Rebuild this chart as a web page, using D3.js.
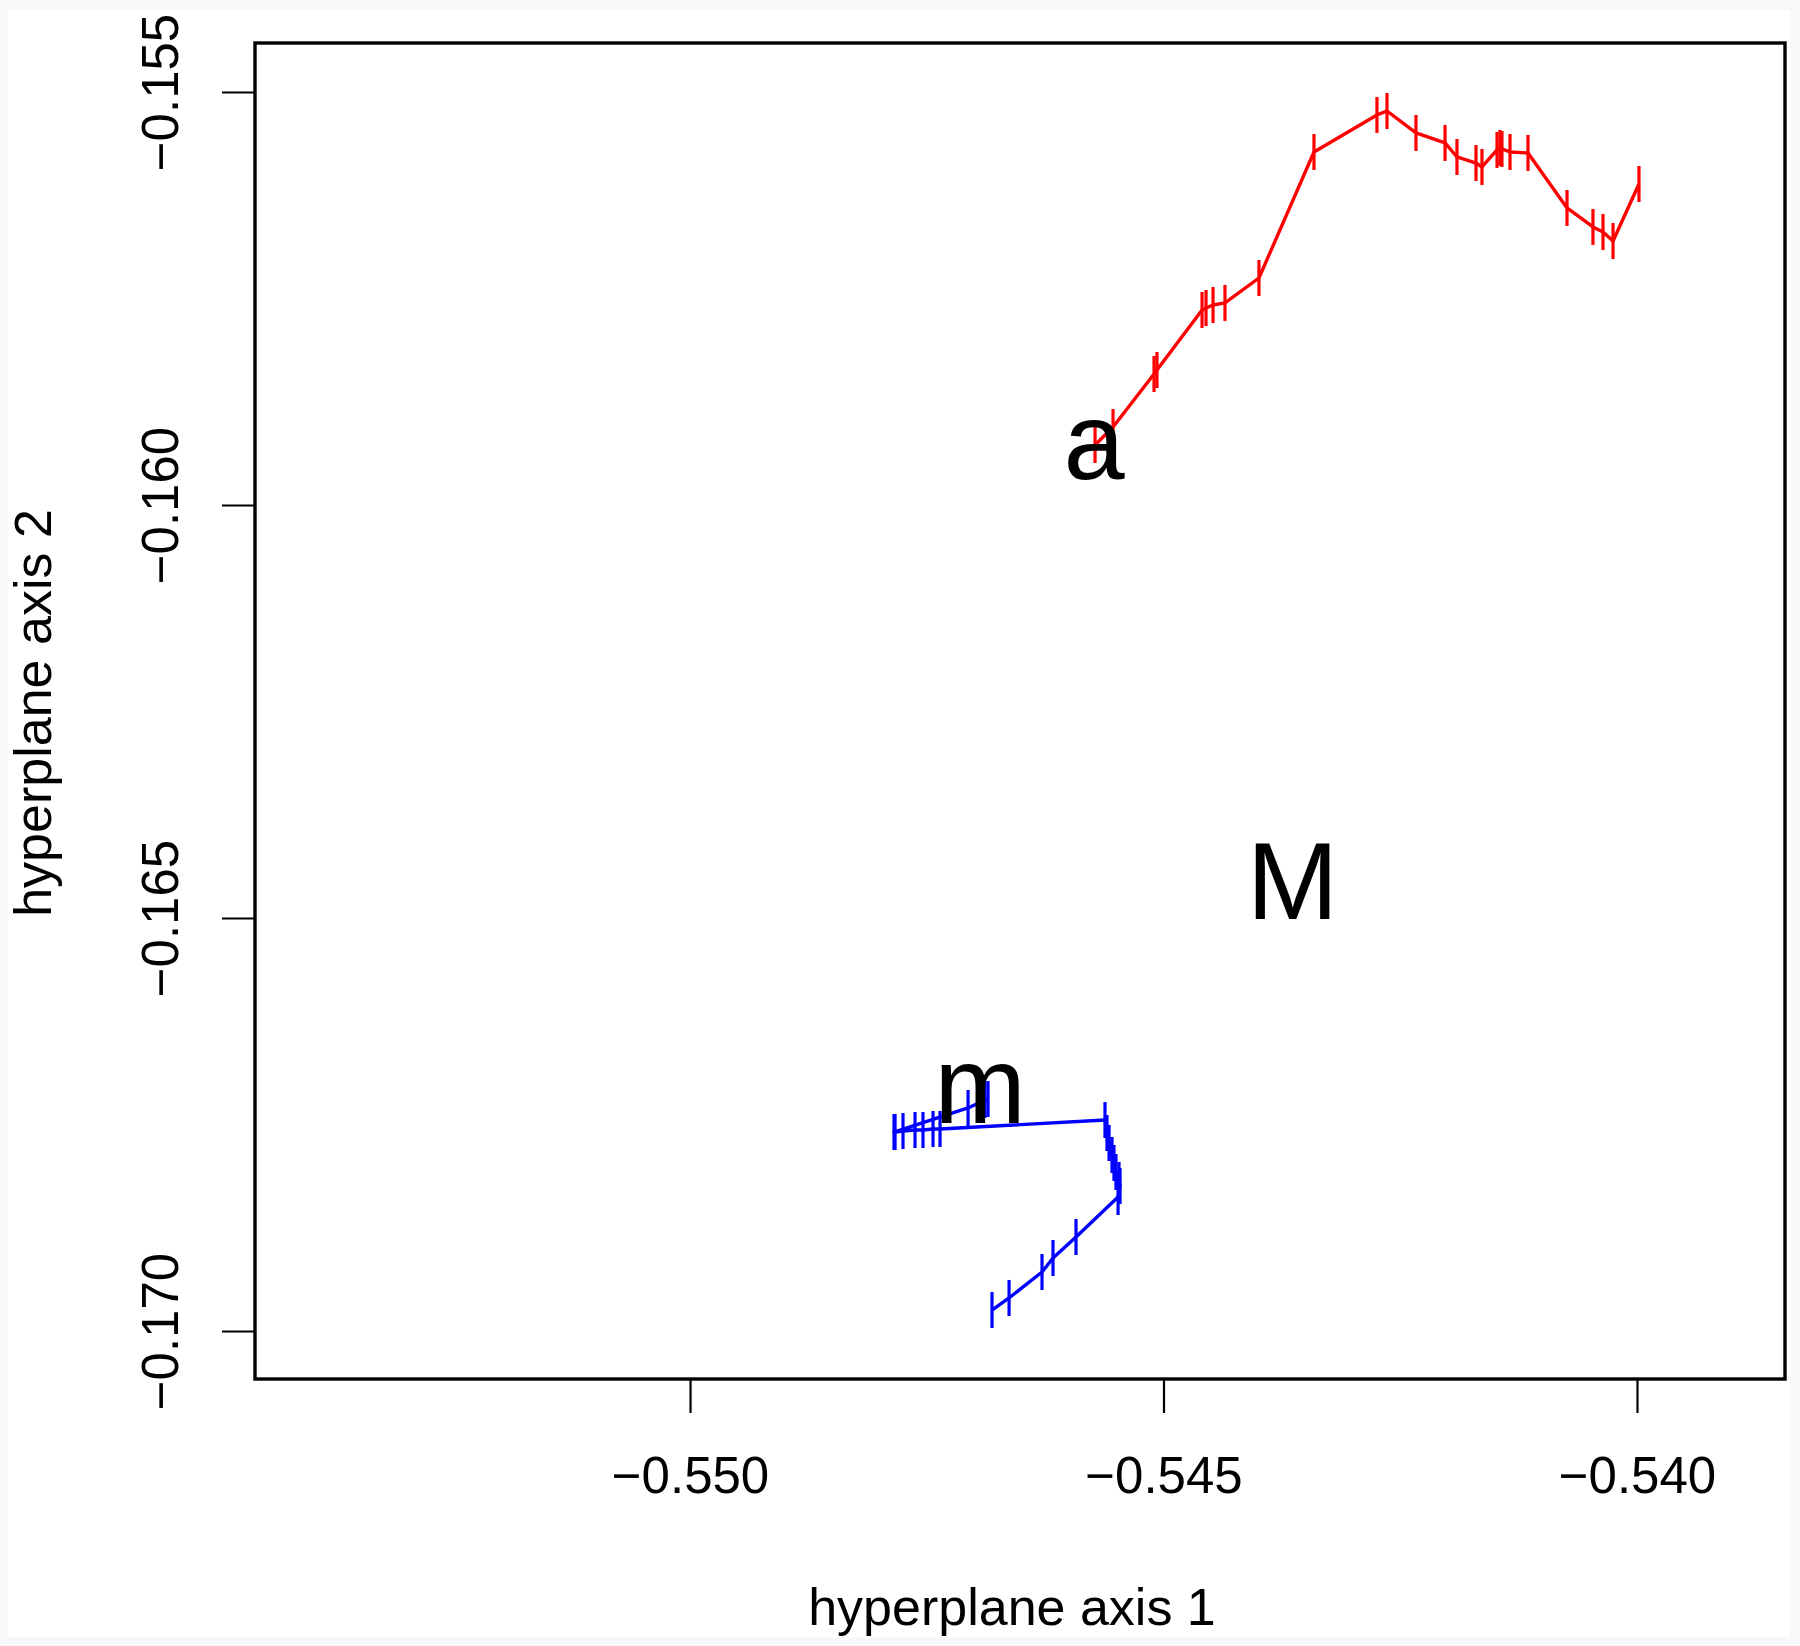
<!DOCTYPE html>
<html>
<head>
<meta charset="utf-8">
<script src="https://cdn.jsdelivr.net/npm/d3@7"></script>
<style>
  html, body { margin: 0; padding: 0; background: #f8f8f8; }
  svg { display: block; }
  text { font-family: "Liberation Sans", Arial, Helvetica, sans-serif; fill: #000; }
</style>
</head>
<body>
<script>
// ---- data ----
const xTickValues = [-0.550, -0.545, -0.540];
const yTickValues = [-0.155, -0.160, -0.165, -0.170];

const redX = [-0.545723, -0.545533, -0.545100, -0.545069, -0.544593, -0.544551, -0.544477, -0.544351,
  -0.543992, -0.543411, -0.542746, -0.542640, -0.542334, -0.542027, -0.541901, -0.541700, -0.541637,
  -0.541478, -0.541447, -0.541426, -0.541341, -0.541151, -0.540739, -0.540465, -0.540359, -0.540253, -0.539979];
const redY = [-0.159274, -0.159056, -0.158414, -0.158366, -0.157639, -0.157615, -0.157579, -0.157554,
  -0.157252, -0.155726, -0.155278, -0.155230, -0.155496, -0.155617, -0.155787, -0.155860, -0.155908,
  -0.155702, -0.155678, -0.155690, -0.155726, -0.155738, -0.156404, -0.156634, -0.156695, -0.156804, -0.156114];

const blueX = [-0.546853, -0.546885, -0.547064, -0.547846, -0.547835, -0.547751, -0.547624, -0.547540,
  -0.547434, -0.547360, -0.545618, -0.545597, -0.545575, -0.545544, -0.545523, -0.545502, -0.545470,
  -0.545459, -0.545480, -0.545924, -0.546167, -0.546283, -0.546631, -0.546811];
const blueY = [-0.167191, -0.167203, -0.167300, -0.167591, -0.167591, -0.167579, -0.167567, -0.167567,
  -0.167554, -0.167554, -0.167446, -0.167603, -0.167724, -0.167869, -0.167966, -0.168075, -0.168172,
  -0.168245, -0.168378, -0.168862, -0.169116, -0.169286, -0.169600, -0.169746];

const labelText = ["a", "M", "m"];
const labelX = [-0.545734, -0.543638, -0.546938];
const labelY = [-0.159200, -0.164528, -0.167000];

const xTitle = "hyperplane axis 1";
const yTitle = "hyperplane axis 2";

// ---- layout ----
const W = 1800, H = 1646;
const box = { left: 255, right: 1785, top: 43, bottom: 1379 };

const svg = d3.select("body").append("svg").attr("width", W).attr("height", H);
svg.append("rect").attr("x", 8).attr("y", 10).attr("width", 1782).attr("height", 1627).attr("fill", "#fff");

const x = d3.scaleLinear().domain([-0.554594, -0.538437]).range([box.left, box.right]);
const y = d3.scaleLinear().domain([-0.170581, -0.154407]).range([box.bottom, box.top]);

const fmt = d => d3.format(".3f")(d).replace("-", "\u2212");

// x axis
const gx = svg.append("g").attr("transform", `translate(0,${box.bottom})`)
  .call(d3.axisBottom(x).tickValues(xTickValues).tickSize(34).tickSizeOuter(0).tickFormat(fmt));
gx.select(".domain").remove();
gx.selectAll(".tick line").attr("stroke", "#000").attr("stroke-width", 2.2);
gx.selectAll(".tick text").attr("y", 114).attr("dy", 0).attr("font-size", 51)
  .attr("font-family", "'Liberation Sans', Arial, sans-serif").attr("fill", "#000");

// y axis
const gy = svg.append("g").attr("transform", `translate(${box.left},0)`)
  .call(d3.axisLeft(y).tickValues(yTickValues).tickSize(33).tickSizeOuter(0).tickFormat(fmt));
gy.select(".domain").remove();
gy.selectAll(".tick line").attr("stroke", "#000").attr("stroke-width", 2.2);
gy.selectAll(".tick text")
  .attr("x", null).attr("dy", null).attr("y", null)
  .attr("text-anchor", "middle").attr("font-size", 51)
  .attr("font-family", "'Liberation Sans', Arial, sans-serif").attr("fill", "#000")
  .attr("transform", `translate(${178 - box.left},0) rotate(-90)`);

// box
svg.append("rect").attr("x", box.left).attr("y", box.top)
  .attr("width", box.right - box.left).attr("height", box.bottom - box.top)
  .attr("fill", "none").attr("stroke", "#000").attr("stroke-width", 3.4);

// titles
svg.append("text").attr("x", 1012).attr("y", 1625).attr("text-anchor", "middle")
  .attr("font-size", 52).text(xTitle);
svg.append("text").attr("transform", `translate(51,${(box.top + box.bottom) / 2 + 2}) rotate(-90)`)
  .attr("text-anchor", "middle").attr("font-size", 52).text(yTitle);

// trajectories
function drawTrack(xs, ys, color) {
  const pts = xs.map((v, i) => [v, ys[i]]);
  const g = svg.append("g");
  g.append("path").datum(pts)
    .attr("d", d3.line().x(d => x(d[0])).y(d => y(d[1])))
    .attr("fill", "none").attr("stroke", color).attr("stroke-width", 3.4)
    .attr("stroke-linejoin", "round");
  g.selectAll("line.pt").data(pts).join("line").attr("class", "pt")
    .attr("x1", d => x(d[0])).attr("x2", d => x(d[0]))
    .attr("y1", d => y(d[1]) - 18).attr("y2", d => y(d[1]) + 18)
    .attr("stroke", color).attr("stroke-width", 3.2);
}
drawTrack(redX, redY, "#ff0000");
drawTrack(blueX, blueY, "#0000ff");

// point labels
svg.selectAll("text.lab").data(labelText).join("text").attr("class", "lab")
  .attr("x", (d, i) => x(labelX[i])).attr("y", (d, i) => y(labelY[i]))
  .attr("dy", "0.36em").attr("text-anchor", "middle").attr("font-size", 110)
  .text(d => d);
</script>
</body>
</html>
